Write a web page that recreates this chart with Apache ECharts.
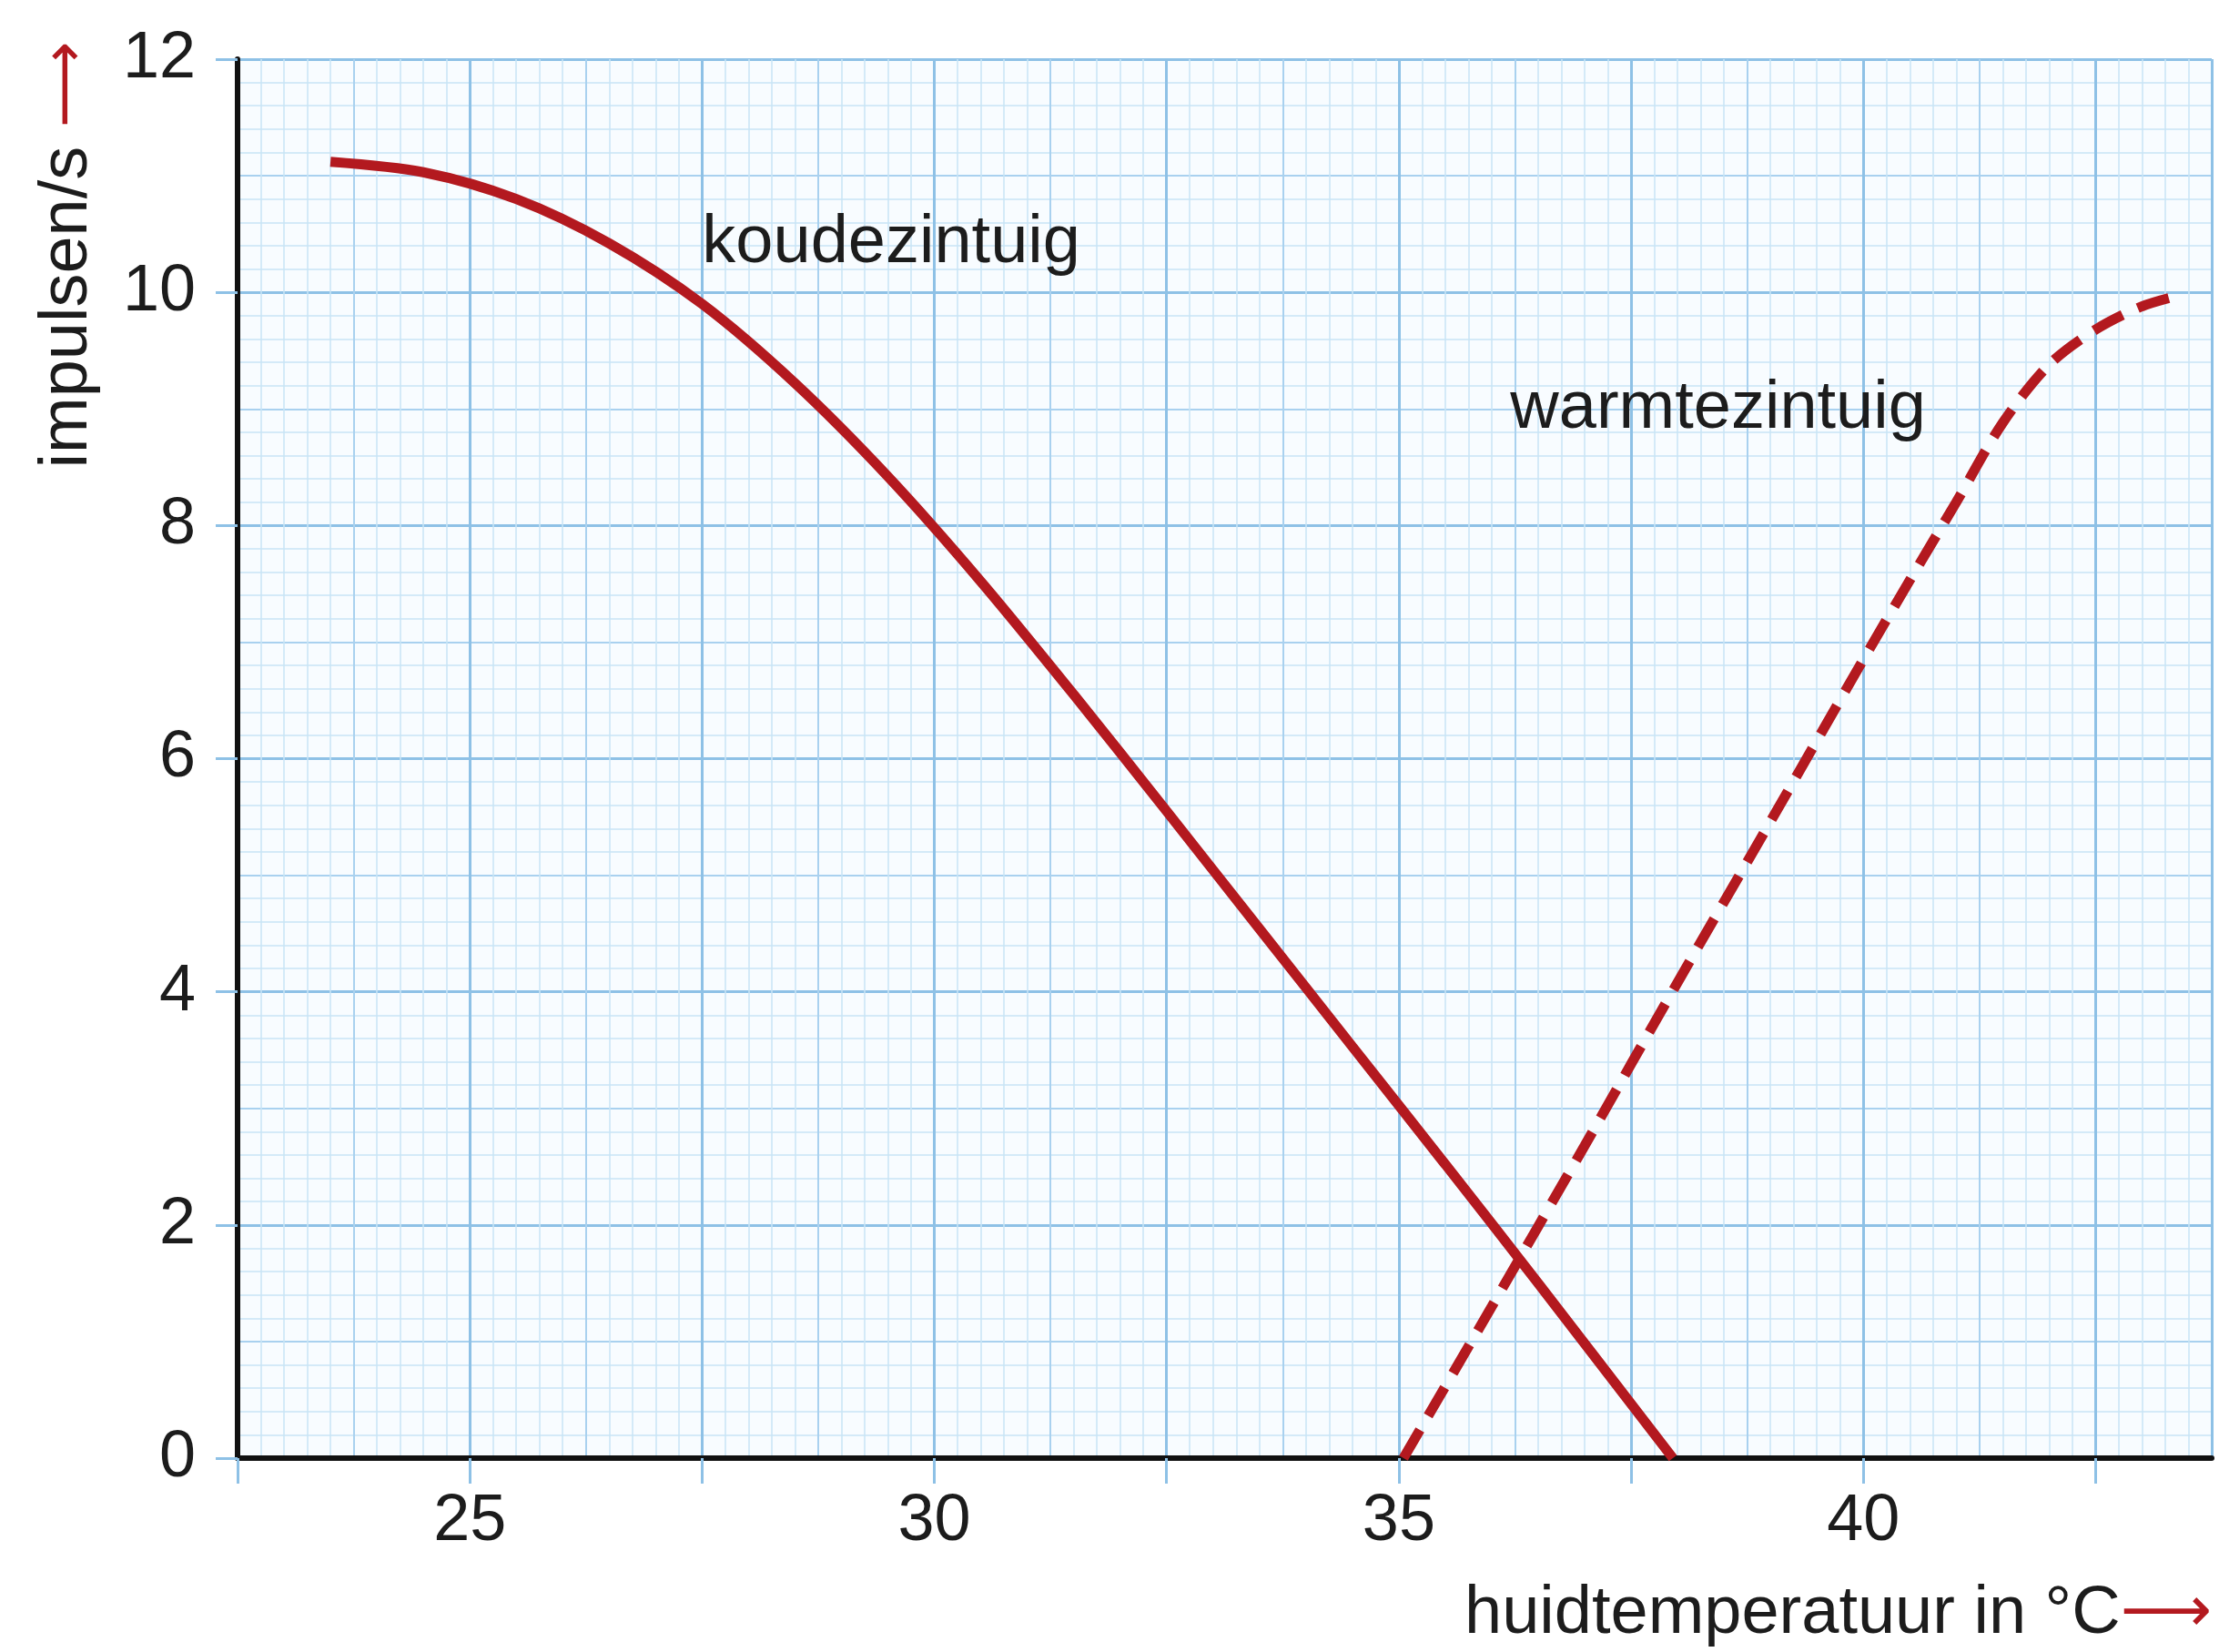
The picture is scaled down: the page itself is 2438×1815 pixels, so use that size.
<!DOCTYPE html>
<html>
<head>
<meta charset="utf-8">
<script src="https://cdn.jsdelivr.net/npm/echarts@6/dist/echarts.min.js"></script>
<style>
html,body{margin:0;padding:0;background:#ffffff;}
#c{width:2438px;height:1815px;}
</style>
</head>
<body>
<div id="c"></div>
<script>
// ---- data ----
const xTickLabels = [25, 30, 35, 40];
const xTickMarks = [22.5, 25, 27.5, 30, 32.5, 35, 37.5, 40, 42.5];
const yTickLabels = [0, 2, 4, 6, 8, 10, 12];
const seriesNames = ['koudezintuig', 'warmtezintuig'];
const koudeX = [23.5, 24.5, 25.5, 26.5, 27.5, 28.5, 29.5, 30.5, 31.5, 32.5, 33.5, 34.5, 35.5, 36.5, 37.95];
const koudeY = [11.12, 11.03, 10.8, 10.42, 9.9, 9.22, 8.42, 7.52, 6.55, 5.55, 4.54, 3.53, 2.52, 1.5, 0];
const warmX = [35.05, 36, 37, 38, 39, 40, 40.5, 41, 41.5, 42, 42.5, 43, 43.43];
const warmY = [0, 1.3, 2.68, 4.08, 5.46, 6.85, 7.53, 8.2, 8.88, 9.38, 9.68, 9.88, 9.98];
const xTitle = 'huidtemperatuur in °C';
const yTitle = 'impulsen/s';

// ---- style ----
const RED = '#b3191f';
const TXT = '#1c1c1c';
const FONT = '"Liberation Sans", Arial, sans-serif';
const MINOR = '#c9e4f6';
const MID = '#a9d1ef';
const MAJOR = '#8ec1e6';
const X_MIN = 22.5, X_MAX = 43.75, Y_MIN = 0, Y_MAX = 12;

function gridX(interval, color, width) {
  return {
    type: 'value', min: X_MIN, max: X_MAX, interval: interval, position: 'bottom',
    axisLine: {show: false}, axisTick: {show: false}, axisLabel: {show: false},
    splitLine: {show: true, showMinLine: false, lineStyle: {color: color, width: width}}
  };
}
function gridY(interval, color, width) {
  return {
    type: 'value', min: Y_MIN, max: Y_MAX, interval: interval, position: 'left',
    axisLine: {show: false}, axisTick: {show: false}, axisLabel: {show: false},
    splitLine: {show: true, showMinLine: false, lineStyle: {color: color, width: width}}
  };
}

const chart = echarts.init(document.getElementById('c'), null, {renderer: 'canvas'});

const option = {
  backgroundColor: '#ffffff',
  animation: false,
  grid: {left: 261, right: 8, top: 65, bottom: 213, show: true, backgroundColor: '#f8fcff', borderWidth: 0},
  xAxis: [
    gridX(0.25, MINOR, 1.5),
    gridX(1.25, MID, 2),
    gridX(2.5, MAJOR, 3),
    {
      type: 'value', min: X_MIN, max: X_MAX, interval: 2.5, position: 'bottom', z: 5,
      axisLine: {show: true, onZero: false, lineStyle: {color: '#111111', width: 6}},
      axisTick: {show: true, inside: false, length: 28, customValues: xTickMarks, lineStyle: {color: MAJOR, width: 3}},
      axisLabel: {show: true, customValues: xTickLabels, margin: 34, fontSize: 72, fontFamily: FONT, color: TXT},
      splitLine: {show: false}
    }
  ],
  yAxis: [
    gridY(0.2, MINOR, 1.5),
    gridY(1, MID, 2),
    gridY(2, MAJOR, 3),
    {
      type: 'value', min: Y_MIN, max: Y_MAX, interval: 2, position: 'left', z: 5,
      axisLine: {show: true, onZero: false, lineStyle: {color: '#111111', width: 6}},
      axisTick: {show: true, inside: false, length: 24, lineStyle: {color: MAJOR, width: 3}},
      axisLabel: {show: true, customValues: yTickLabels, margin: 46, fontSize: 72, fontFamily: FONT, color: TXT},
      splitLine: {show: false}
    }
  ],
  series: [
    {
      name: seriesNames[0], type: 'line', xAxisIndex: 3, yAxisIndex: 3, z: 6,
      data: koudeX.map((x, i) => [x, koudeY[i]]),
      showSymbol: false, symbol: 'none', smooth: 0.3,
      lineStyle: {color: RED, width: 11, cap: 'butt'}
    },
    {
      name: seriesNames[1], type: 'line', xAxisIndex: 3, yAxisIndex: 3, z: 6,
      data: warmX.map((x, i) => [x, warmY[i]]),
      showSymbol: false, symbol: 'none', smooth: 0.3,
      lineStyle: {color: RED, width: 11, type: [36, 18], cap: 'butt'}
    }
  ]
};
chart.setOption(option);

// annotation anchors (data space) for the curve names
const koudeLabelAt = [27.5, 10.42];
const warmLabelAt = [36.2, 9.0];
const pK = chart.convertToPixel({xAxisIndex: 3, yAxisIndex: 3}, koudeLabelAt);
const pW = chart.convertToPixel({xAxisIndex: 3, yAxisIndex: 3}, warmLabelAt);
const gridRight = chart.convertToPixel({xAxisIndex: 3}, X_MAX);
const gridBottom = chart.convertToPixel({yAxisIndex: 3}, Y_MIN);
const gridTop = chart.convertToPixel({yAxisIndex: 3}, Y_MAX);

chart.setOption({
  graphic: [
    {type: 'text', x: pK[0], y: pK[1], z: 10,
      style: {text: seriesNames[0], fill: TXT, fontSize: 74, fontFamily: FONT, align: 'left', verticalAlign: 'middle'}},
    {type: 'text', x: pW[0], y: pW[1], z: 10,
      style: {text: seriesNames[1], fill: TXT, fontSize: 74, fontFamily: FONT, align: 'left', verticalAlign: 'middle'}},
    {type: 'text', x: gridRight, y: gridBottom + 172, z: 10,
      style: {text: xTitle + '{a|⟶}', fill: TXT, fontSize: 74, fontFamily: FONT, align: 'right', verticalAlign: 'middle',
        rich: {a: {fill: RED, fontSize: 70, fontFamily: '"DejaVu Sans"'}}}},
    {type: 'text', x: 75, y: gridTop + 215, rotation: Math.PI / 2, z: 10,
      style: {text: yTitle + ' {a|⟶}', fill: TXT, fontSize: 74, fontFamily: FONT, align: 'center', verticalAlign: 'middle',
        rich: {a: {fill: RED, fontSize: 66, fontFamily: '"DejaVu Sans"'}}}}
  ]
});
</script>
</body>
</html>
